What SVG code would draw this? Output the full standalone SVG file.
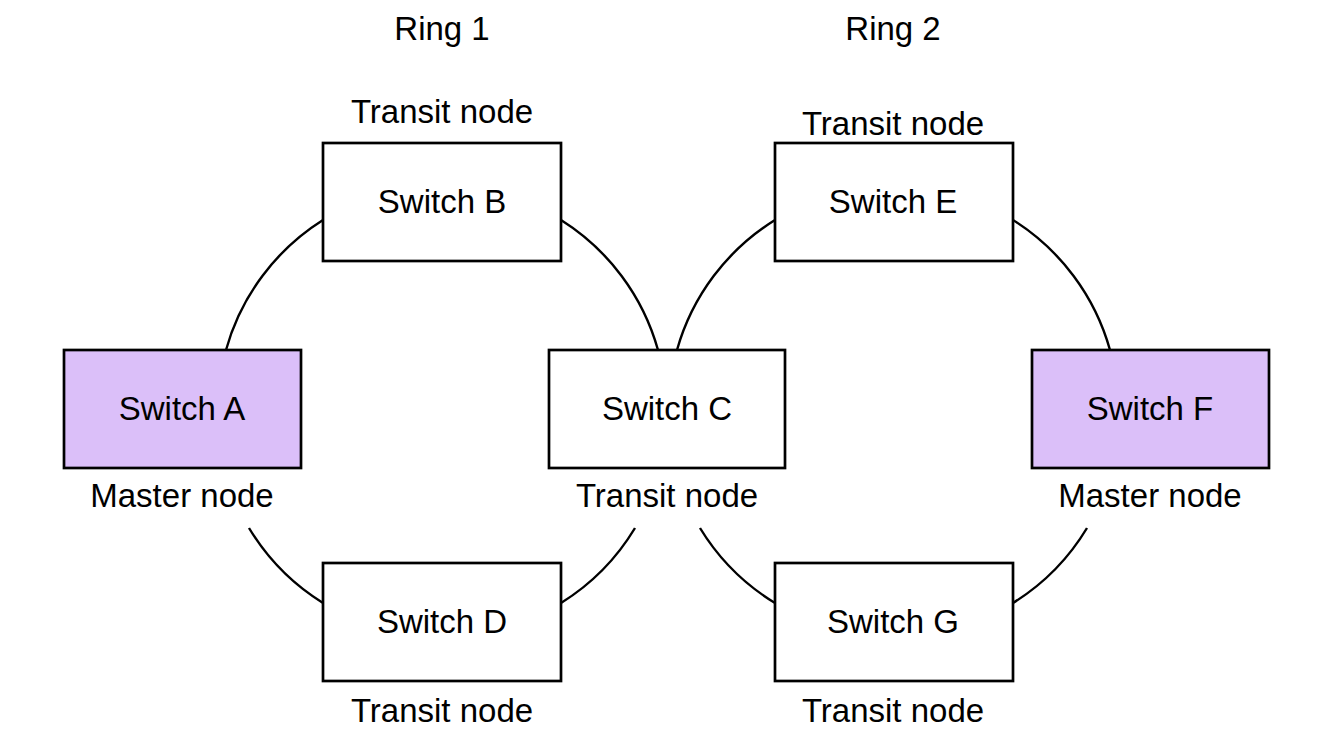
<svg xmlns="http://www.w3.org/2000/svg" width="1334" height="738" viewBox="0 0 1334 738">
<style>
.bg{fill:#ffffff}
.box{fill:#ffffff;stroke:#000000;stroke-width:2.7}
.master{fill:#dbbff9}
.lbl{font-family:"Liberation Sans",Arial,sans-serif;font-size:33px;fill:#000000;text-anchor:middle}
.arc{fill:none;stroke:#000000;stroke-width:2.4}
</style>
<rect class="bg" x="0" y="0" width="1334" height="738"/>
<g id="connectors">
<path class="arc" d="M226,350 A225,225 0 0 1 323,220"/>
<path class="arc" d="M561,220 A225,225 0 0 1 658,350"/>
<path class="arc" d="M635,528 A225,225 0 0 1 561,603"/>
<path class="arc" d="M323,603 A225,225 0 0 1 249,528"/>
<path class="arc" d="M677,350 A225,225 0 0 1 775,220"/>
<path class="arc" d="M1013,220 A225,225 0 0 1 1110,350"/>
<path class="arc" d="M1087,528 A225,225 0 0 1 1013,603"/>
<path class="arc" d="M775,603 A225,225 0 0 1 700,528"/>
</g>
<g id="titles">
<text class="lbl" x="442" y="40">Ring 1</text>
<text class="lbl" x="893" y="40">Ring 2</text>
</g>
<g id="switchA">
<rect class="box master" x="64" y="350" width="237" height="118"/>
<text class="lbl" x="182" y="420">Switch A</text>
<text class="lbl" x="182" y="507">Master node</text>
</g>
<g id="switchB">
<rect class="box" x="323" y="143" width="238" height="118"/>
<text class="lbl" x="442" y="213">Switch B</text>
<text class="lbl" x="442" y="123">Transit node</text>
</g>
<g id="switchC">
<rect class="box" x="549" y="350" width="236" height="118"/>
<text class="lbl" x="667" y="420">Switch C</text>
<text class="lbl" x="667" y="507">Transit node</text>
</g>
<g id="switchD">
<rect class="box" x="323" y="563" width="238" height="118"/>
<text class="lbl" x="442" y="633">Switch D</text>
<text class="lbl" x="442" y="722">Transit node</text>
</g>
<g id="switchE">
<rect class="box" x="775" y="143" width="238" height="118"/>
<text class="lbl" x="893" y="213">Switch E</text>
<text class="lbl" x="893" y="135">Transit node</text>
</g>
<g id="switchF">
<rect class="box master" x="1032" y="350" width="237" height="118"/>
<text class="lbl" x="1150" y="420">Switch F</text>
<text class="lbl" x="1150" y="507">Master node</text>
</g>
<g id="switchG">
<rect class="box" x="775" y="563" width="238" height="118"/>
<text class="lbl" x="893" y="633">Switch G</text>
<text class="lbl" x="893" y="722">Transit node</text>
</g>
</svg>
